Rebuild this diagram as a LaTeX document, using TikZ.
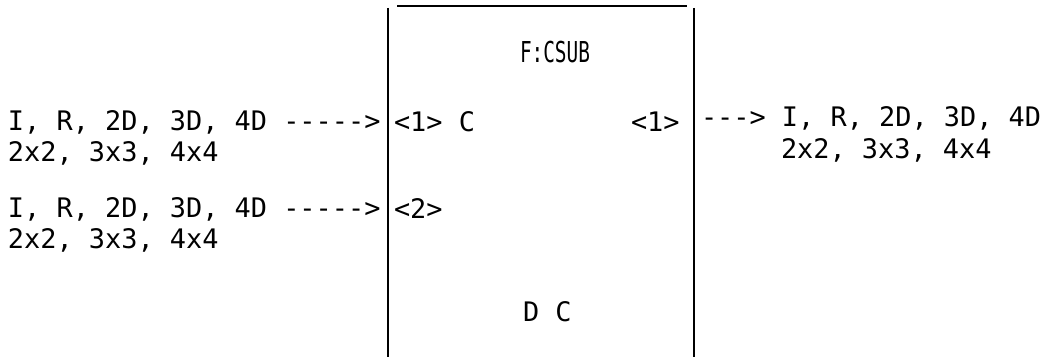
\documentclass[tikz,border=0pt]{standalone}
\usepackage{fontspec}
\newfontfamily\monof{DejaVu Sans Mono}
\begin{document}
\begin{tikzpicture}[x=1pt,y=1pt,
  txt/.style={anchor=base west,inner sep=0pt,outer sep=0pt,font=\monof\fontsize{26.9}{30}\selectfont},
  side/.style={line width=2.6pt},
  topline/.style={line width=1.5pt}]
\useasboundingbox (0,0) rectangle (1044,357);
% box outline
\coordinate (lt) at (388,349);
\coordinate (lb) at (388,0);
\coordinate (rt) at (694,349);
\coordinate (rb) at (694,0);
\coordinate (tl) at (397,351);
\coordinate (tr) at (687,351);
\draw[side] (lt) -- (lb);
\draw[side] (rt) -- (rb);
\draw[topline] (tl) -- (tr);
% left inputs
\node[txt] (in1a) at (8,357-130) {I, R, 2D, 3D, 4D ----->};
\node[txt] (in1b) at (8,357-161) {2x2, 3x3, 4x4};
\node[txt] (in2a) at (8,357-217) {I, R, 2D, 3D, 4D ----->};
\node[txt] (in2b) at (8,357-248) {2x2, 3x3, 4x4};
% inside box
\node[txt] (p1) at (394,357-131) {<1> C};
\node[txt] (p2) at (394,357-218) {<2>};
\node[txt] (po) at (631,357-131) {<1>};
\node[txt] (title) at (520,357-63) {\scalebox{0.72}[1.07]{F:CSUB}};
\node[txt] (dc) at (523,357-321) {D C};
% right outputs
\node[txt] (out1) at (701,357-126) {---> I, R, 2D, 3D, 4D};
\node[txt] (out2) at (781,357-158) {2x2, 3x3, 4x4};
\end{tikzpicture}
\end{document}
